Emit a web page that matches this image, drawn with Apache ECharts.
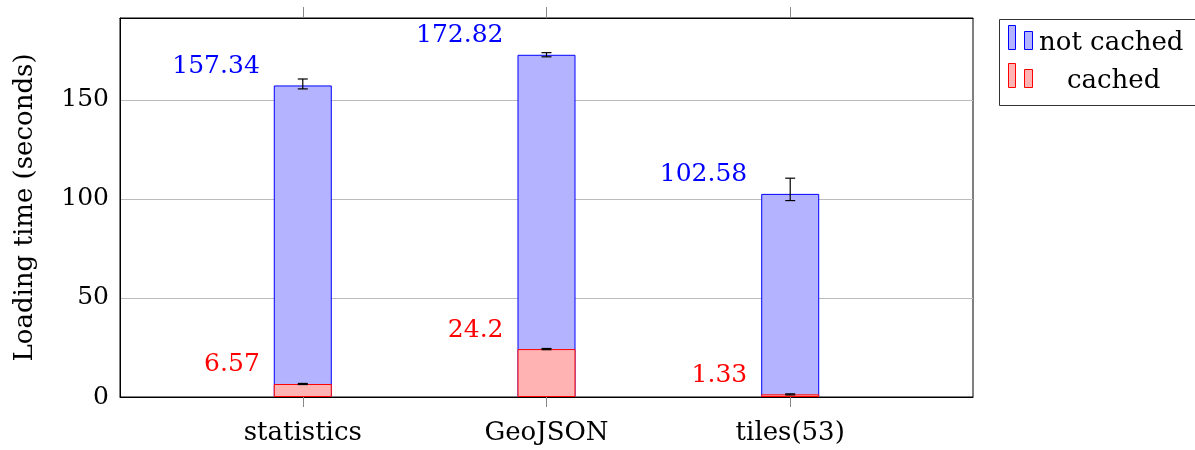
<!DOCTYPE html>
<html>
<head>
<meta charset="utf-8">
<script src="https://cdn.jsdelivr.net/npm/echarts@6/dist/echarts.min.js"></script>
<style>html,body{margin:0;padding:0;background:#fff;}#c{width:1195px;height:450px;}</style>
</head>
<body>
<div id="c"></div>
<script>
const categories = ['statistics', 'GeoJSON', 'tiles(53)'];
const notCached = [157.34, 172.82, 102.58];
const notCachedErrLow = [155.6, 171.8, 99.2];
const notCachedErrHigh = [160.6, 173.9, 110.5];
const cached = [6.57, 24.2, 1.33];
const cachedErrLow = [6.3, 23.9, 1.05];
const cachedErrHigh = [6.85, 24.5, 1.6];
const yTicks = [0, 50, 100, 150];
const legendNames = ['not cached', 'cached'];

const FONT = "DejaVu Serif";
const FS = 25;   // numbers
const FT = 26;   // words
const idx = categories.map((c, i) => i);

function errData(lo, hi) { return idx.map(i => [i, lo[i], hi[i]]); }

function renderErr(params, api) {
  const x = api.value(0);
  const p1 = api.coord([x, api.value(1)]);
  const p2 = api.coord([x, api.value(2)]);
  const hw = 5;
  const st = { stroke: '#000', lineWidth: 1.2 };
  return {
    type: 'group',
    children: [
      { type: 'line', shape: { x1: p1[0], y1: p1[1], x2: p2[0], y2: p2[1] }, style: st },
      { type: 'line', shape: { x1: p1[0] - hw, y1: p1[1], x2: p1[0] + hw, y2: p1[1] }, style: st },
      { type: 'line', shape: { x1: p2[0] - hw, y1: p2[1], x2: p2[0] + hw, y2: p2[1] }, style: st }
    ]
  };
}

const labelBase = {
  show: true, position: [-14, -19], align: 'right', verticalAlign: 'middle',
  fontSize: FS, fontFamily: FONT,
  formatter: p => String(p.value[1])
};

const chart = echarts.init(document.getElementById('c'), null, { renderer: 'canvas' });
chart.setOption({
  animation: false,
  grid: { left: 120, right: 222, top: 18, bottom: 53, show: true, borderColor: '#000', borderWidth: 1 },
  xAxis: [
    {
      type: 'value', min: -0.75, max: 2.75, position: 'bottom',
      axisLine: { show: true, onZero: false, lineStyle: { color: '#000' } },
      axisTick: { show: true, inside: false, length: 10, customValues: idx, lineStyle: { color: '#888' } },
      axisLabel: { show: true, customValues: idx, margin: 23, fontSize: FT, fontFamily: FONT, color: '#000',
        formatter: v => categories[Math.round(v)] || '' },
      splitLine: { show: false }
    },
    {
      type: 'value', min: -0.75, max: 2.75, position: 'top',
      axisLine: { show: true, onZero: false, lineStyle: { color: '#000' } },
      axisTick: { show: true, inside: false, length: 11, customValues: idx, lineStyle: { color: '#888' } },
      axisLabel: { show: false },
      splitLine: { show: false }
    }
  ],
  yAxis: {
    type: 'value', min: 0, max: 191.4, interval: 50,
    name: 'Loading time (seconds)', nameLocation: 'middle', nameGap: 82,
    nameTextStyle: { fontSize: FT, fontFamily: FONT, color: '#000' },
    axisLine: { show: true, onZero: false, lineStyle: { color: '#000' } },
    axisTick: { show: false },
    axisLabel: { customValues: yTicks, margin: 11, fontSize: FS, fontFamily: FONT, color: '#000' },
    splitLine: { show: true, lineStyle: { color: '#bbbbbb', width: 1 } }
  },
  series: [
    {
      name: legendNames[0], type: 'bar', barWidth: 58, barGap: '-100%', z: 2,
      data: idx.map(i => [i, notCached[i]]),
      itemStyle: { color: '#b3b3ff', borderColor: '#0000ff', borderWidth: 1 },
      label: Object.assign({}, labelBase, { color: '#0000ff' })
    },
    {
      name: legendNames[1], type: 'bar', barWidth: 58, barGap: '-100%', z: 3,
      data: idx.map(i => [i, cached[i]]),
      itemStyle: { color: '#ffb3b3', borderColor: '#ff0000', borderWidth: 1 },
      label: Object.assign({}, labelBase, { color: '#ff0000' })
    },
    { type: 'custom', z: 5, renderItem: renderErr, data: errData(notCachedErrLow, notCachedErrHigh) },
    { type: 'custom', z: 5, renderItem: renderErr, data: errData(cachedErrLow, cachedErrHigh) }
  ],
  graphic: [
    { type: 'rect', shape: { x: 999.5, y: 19.5, width: 240, height: 86 }, style: { fill: '#fff', stroke: '#333', lineWidth: 1 } },
    { type: 'rect', shape: { x: 1008.5, y: 25.5, width: 7, height: 24 }, style: { fill: '#b3b3ff', stroke: '#0000ff', lineWidth: 1 } },
    { type: 'rect', shape: { x: 1024.5, y: 31.5, width: 8, height: 18 }, style: { fill: '#b3b3ff', stroke: '#0000ff', lineWidth: 1 } },
    { type: 'rect', shape: { x: 1008.5, y: 63.5, width: 7, height: 24 }, style: { fill: '#ffb3b3', stroke: '#ff0000', lineWidth: 1 } },
    { type: 'rect', shape: { x: 1024.5, y: 69.5, width: 8, height: 18 }, style: { fill: '#ffb3b3', stroke: '#ff0000', lineWidth: 1 } },
    { type: 'text', x: 1039, y: 43, style: { text: legendNames[0], fontSize: FT, fontFamily: FONT, fill: '#000', verticalAlign: 'middle' } },
    { type: 'text', x: 1067, y: 81, style: { text: legendNames[1], fontSize: FT, fontFamily: FONT, fill: '#000', verticalAlign: 'middle' } }
  ]
});
</script>
</body>
</html>
